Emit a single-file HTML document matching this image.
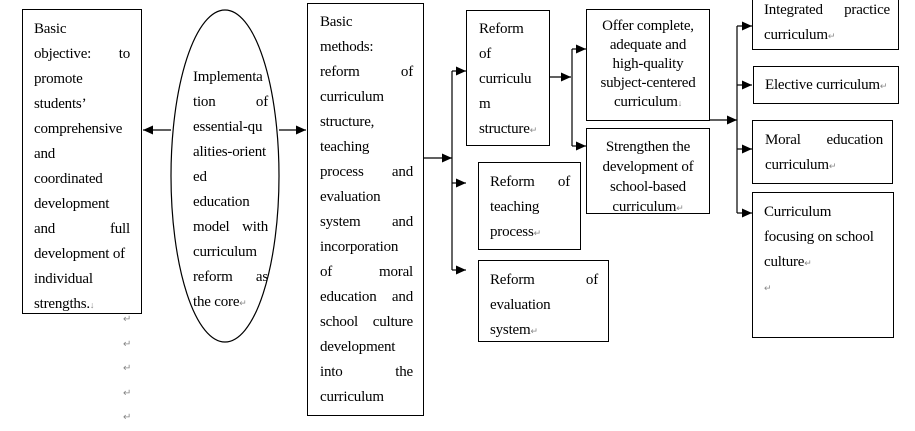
<!DOCTYPE html>
<html><head><meta charset="utf-8"><style>
body{margin:0;width:915px;height:422px;background:#fff;position:relative;overflow:hidden;font-family:"Liberation Serif",serif;font-size:15px;color:#000}
.b{position:absolute;border:1px solid #000;box-sizing:border-box;background:#fff}
.t{position:absolute;line-height:25px;letter-spacing:-0.2px}
.t div{white-space:nowrap;height:25px}
.j{text-align:justify;text-align-last:justify}
.c{text-align:center}
.r{position:absolute;font-size:10px;color:#888}
</style></head><body>
<svg width="915" height="422" style="position:absolute;left:0;top:0">
<defs><marker id="a" markerWidth="10" markerHeight="10" refX="10" refY="5" orient="auto" markerUnits="userSpaceOnUse"><path d="M0,0.5 L10,5 L0,9.5z" fill="#000"/></marker></defs>
<g stroke="#000" stroke-width="1.2" fill="none">
<ellipse cx="225" cy="176" rx="54" ry="166"/>
<line x1="171" y1="130" x2="143" y2="130" marker-end="url(#a)"/>
<line x1="279" y1="130" x2="306" y2="130" marker-end="url(#a)"/>
<line x1="423" y1="158" x2="452" y2="158" marker-end="url(#a)"/>
<line x1="452" y1="71" x2="452" y2="270"/>
<line x1="452" y1="71" x2="466" y2="71" marker-end="url(#a)"/>
<line x1="452" y1="183" x2="466" y2="183" marker-end="url(#a)"/>
<line x1="452" y1="270" x2="466" y2="270" marker-end="url(#a)"/>
<line x1="549" y1="77" x2="571" y2="77" marker-end="url(#a)"/>
<line x1="572" y1="49" x2="572" y2="146"/>
<line x1="572" y1="49" x2="586" y2="49" marker-end="url(#a)"/>
<line x1="572" y1="146" x2="586" y2="146" marker-end="url(#a)"/>
<line x1="709" y1="120" x2="737" y2="120" marker-end="url(#a)"/>
<line x1="737" y1="26" x2="737" y2="213"/>
<line x1="737" y1="26" x2="752" y2="26" marker-end="url(#a)"/>
<line x1="737" y1="85" x2="752" y2="85" marker-end="url(#a)"/>
<line x1="737" y1="149" x2="752" y2="149" marker-end="url(#a)"/>
<line x1="737" y1="213" x2="752" y2="213" marker-end="url(#a)"/>
</g></svg>

<div class="b" style="left:22px;top:9px;width:120px;height:305px"></div>
<div class="t" style="left:34px;top:17px;width:96px">
<div>Basic</div><div class="j">objective: to</div><div>promote</div><div>students’</div><div>comprehensive</div><div>and</div><div>coordinated</div><div>development</div><div class="j">and full</div><div>development of</div><div>individual</div><div>strengths.<span style="font-size:9px;color:#888">↓</span></div>
</div>
<div class="r" style="left:123px;top:308px;line-height:24.5px">↵<br>↵<br>↵<br>↵<br>↵</div>

<div class="t" style="left:193px;top:65px;width:75px">
<div>Implementa</div><div class="j">tion of</div><div>essential-qu</div><div>alities-orient</div><div>ed</div><div>education</div><div class="j">model with</div><div>curriculum</div><div class="j">reform as</div><div>the core<span style="font-size:9px;color:#888">↵</span></div>
</div>

<div class="b" style="left:307px;top:3px;width:117px;height:413px"></div>
<div class="t" style="left:320px;top:10px;width:93px">
<div>Basic</div><div>methods:</div><div class="j">reform of</div><div>curriculum</div><div>structure,</div><div>teaching</div><div class="j">process and</div><div>evaluation</div><div class="j">system and</div><div>incorporation</div><div class="j">of moral</div><div class="j">education and</div><div class="j">school culture</div><div>development</div><div class="j">into the</div><div>curriculum</div>
</div>

<div class="b" style="left:466px;top:10px;width:84px;height:136px"></div>
<div class="t" style="left:479px;top:17px;width:65px">
<div>Reform</div><div>of</div><div>curriculu</div><div>m</div><div>structure<span style="font-size:9px;color:#888">↵</span></div>
</div>

<div class="b" style="left:478px;top:162px;width:103px;height:88px"></div>
<div class="t" style="left:490px;top:170px;width:80px">
<div class="j">Reform of</div><div>teaching</div><div>process<span style="font-size:9px;color:#888">↵</span></div>
</div>

<div class="b" style="left:478px;top:260px;width:131px;height:82px"></div>
<div class="t" style="left:490px;top:268px;width:108px">
<div class="j">Reform of</div><div>evaluation</div><div>system<span style="font-size:9px;color:#888">↵</span></div>
</div>

<div class="b" style="left:586px;top:9px;width:124px;height:112px"></div>
<div class="t c" style="left:586px;top:17px;width:124px;line-height:19px">
<div style="height:19px">Offer complete,</div><div style="height:19px">adequate and</div><div style="height:19px">high-quality</div><div style="height:19px">subject-centered</div><div style="height:19px">curriculum<span style="font-size:9px;color:#888">↓</span></div>
</div>

<div class="b" style="left:586px;top:128px;width:124px;height:86px;overflow:hidden">
<div class="t c" style="left:0;top:8px;width:122px;line-height:20px">
<div style="height:20px">Strengthen the</div><div style="height:20px">development of</div><div style="height:20px">school-based</div><div style="height:20px">curriculum<span style="font-size:9px;color:#888">↵</span></div>
</div></div>

<div class="b" style="left:752px;top:-5px;width:147px;height:55px"></div>
<div class="t" style="left:764px;top:-2px;width:126px">
<div class="j">Integrated practice</div><div>curriculum<span style="font-size:9px;color:#888">↵</span></div>
</div>

<div class="b" style="left:753px;top:66px;width:146px;height:38px"></div>
<div class="t" style="left:765px;top:73px;width:130px"><div>Elective curriculum<span style="font-size:9px;color:#888">↵</span></div></div>

<div class="b" style="left:752px;top:120px;width:141px;height:64px"></div>
<div class="t" style="left:765px;top:128px;width:118px">
<div class="j">Moral education</div><div>curriculum<span style="font-size:9px;color:#888">↵</span></div>
</div>

<div class="b" style="left:752px;top:192px;width:142px;height:146px"></div>
<div class="t" style="left:764px;top:200px;width:122px">
<div>Curriculum</div><div>focusing on school</div><div>culture<span style="font-size:9px;color:#888">↵</span></div><div><span style="font-size:9px;color:#888">↵</span></div>
</div>
</body></html>
